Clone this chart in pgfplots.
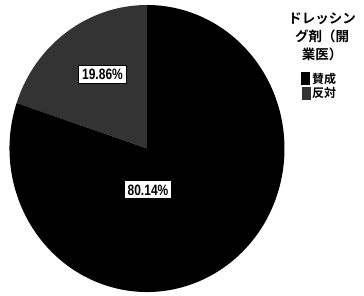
\documentclass[border=0pt]{standalone}
\usepackage{pgfplots}
\pgfplotsset{compat=1.18}
\usepackage{pgfplotstable}
\usepackage{fontspec}
\setmainfont{Liberation Sans}
\newfontfamily\jp{Noto Sans CJK JP Bold}
\pgfplotstableread{
share value
yes 80.14
no 19.86
}\piedata
\pgfplotstablegetelem{0}{value}\of\piedata \let\vyes\pgfplotsretval
\pgfplotstablegetelem{1}{value}\of\piedata \let\vno\pgfplotsretval
\pgfmathsetmacro\angno{90+3.6*\vno}
\pgfmathsetmacro\angyes{\angno+3.6*\vyes}
\tikzset{pct/.style={draw=black, line width=1pt, fill=white, inner xsep=3.5pt, inner ysep=2pt,
  minimum height=18pt, font=\bfseries\fontsize{15}{15}\selectfont}}
\begin{document}
\begin{tikzpicture}
\begin{axis}[
  x=1pt, y=1pt, xmin=0, xmax=364, ymin=0, ymax=296,
  hide axis, clip=false, scale only axis,
]
\coordinate (bl) at (axis cs:0,0);
\coordinate (tr) at (axis cs:364,296);
% slices
\fill[black!80] (axis cs:147,147.5) -- ++(90:137.5pt and 143.5pt)
  arc[start angle=90, end angle=\angno, x radius=137.5pt, y radius=143.5pt] -- cycle;
\fill[black] (axis cs:147,147.5) -- ++(\angno:137.5pt and 143.5pt)
  arc[start angle=\angno, end angle=\angyes, x radius=137.5pt, y radius=143.5pt] -- cycle;
% labels
\node[pct] at (axis cs:102.5,221.5) {\scalebox{0.8}[1]{\vno\%}};
\node[pct] at (axis cs:148,106) {\scalebox{0.8}[1]{\vyes\%}};
% legend
\node[align=center, font=\jp\fontsize{13.5}{18}\selectfont, inner sep=0pt] at (axis cs:322,259)
  {ドレッシン\\グ剤（開\\業医）};
\fill[black] (axis cs:301,211) rectangle (axis cs:309.5,224);
\fill[black!80] (axis cs:302,196) rectangle (axis cs:310.5,209);
\node[anchor=west, font=\jp\fontsize{12}{12}\selectfont, inner sep=0pt] at (axis cs:312,217.5) {賛成};
\node[anchor=west, font=\jp\fontsize{12}{12}\selectfont, inner sep=0pt] at (axis cs:312,203) {反対};
\end{axis}
\pgfresetboundingbox
\path[use as bounding box] (bl) rectangle (tr);
\end{tikzpicture}
\end{document}
